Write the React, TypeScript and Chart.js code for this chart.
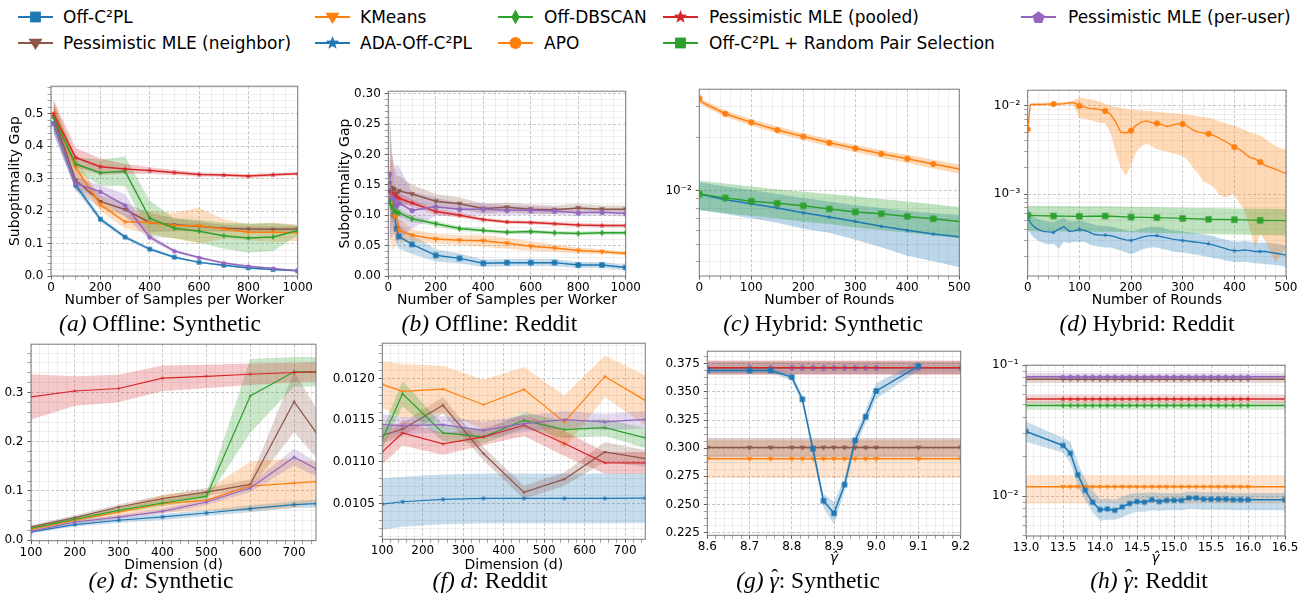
import React, { useEffect, useRef } from 'react';
import { Chart, registerables } from 'chart.js';

Chart.register(...registerables);
Chart.defaults.font.family = "'DejaVu Sans', sans-serif";
Chart.defaults.color = '#000';

const BLUE = '#1f77b4';
const ORANGE = '#ff7f0e';
const GREEN = '#2ca02c';
const RED = '#d62728';
const PURPLE = '#9467bd';
const BROWN = '#8c564b';

// ---------- (a) Offline: Synthetic ----------
const aX = [10, 100, 200, 300, 400, 500, 600, 700, 800, 900, 1000];
const aBlue = [0.47, 0.28, 0.175, 0.12, 0.083, 0.058, 0.042, 0.033, 0.025, 0.02, 0.016];
const aBlueErr = [0.03, 0.015, 0.008, 0.006, 0.005, 0.004, 0.003, 0.003, 0.003, 0.003, 0.002];
const aBrown = [0.49, 0.295, 0.23, 0.205, 0.165, 0.158, 0.153, 0.147, 0.145, 0.144, 0.145];
const aBrownErr = [0.04, 0.03, 0.02, 0.02, 0.03, 0.02, 0.015, 0.01, 0.01, 0.01, 0.01];
const aOrange = [0.5, 0.335, 0.22, 0.167, 0.165, 0.155, 0.155, 0.145, 0.135, 0.135, 0.133];
const aOrangeErr = [0.04, 0.03, 0.02, 0.02, 0.035, 0.04, 0.055, 0.03, 0.025, 0.03, 0.025];
const aGreen = [0.49, 0.345, 0.318, 0.323, 0.178, 0.147, 0.138, 0.124, 0.117, 0.12, 0.14];
const aGreenErr = [0.04, 0.02, 0.04, 0.045, 0.055, 0.03, 0.035, 0.04, 0.045, 0.043, 0.015];
const aRed = [0.5, 0.365, 0.337, 0.33, 0.325, 0.319, 0.313, 0.311, 0.308, 0.312, 0.315];
const aRedErr = [0.045, 0.03, 0.025, 0.015, 0.01, 0.008, 0.006, 0.005, 0.006, 0.005, 0.004];
const aPurple = [0.47, 0.285, 0.26, 0.218, 0.12, 0.077, 0.057, 0.04, 0.03, 0.023, 0.016];
const aPurpleErr = [0.03, 0.02, 0.02, 0.035, 0.01, 0.005, 0.004, 0.003, 0.003, 0.003, 0.002];
const aXTicks = [0, 200, 400, 600, 800, 1000];
const aYTicks = [0, 0.1, 0.2, 0.3, 0.4, 0.5];

// ---------- (b) Offline: Reddit ----------
const bX = [5, 15, 25, 35, 45, 100, 200, 300, 400, 500, 600, 700, 800, 900, 1000];
const bBlue = [0.14, 0.12, 0.1, 0.078, 0.065, 0.052, 0.034, 0.029, 0.021, 0.022, 0.022, 0.022, 0.018, 0.018, 0.014];
const bBlueErr = [0.03, 0.03, 0.03, 0.025, 0.02, 0.016, 0.01, 0.008, 0.006, 0.006, 0.006, 0.006, 0.005, 0.005, 0.004];
const bBrown = [0.153, 0.145, 0.143, 0.135, 0.14, 0.135, 0.123, 0.119, 0.111, 0.113, 0.11, 0.109, 0.112, 0.11, 0.11];
const bBrownErr = [0.12, 0.06, 0.04, 0.03, 0.025, 0.015, 0.012, 0.01, 0.008, 0.008, 0.008, 0.007, 0.007, 0.006, 0.006];
const bOrange = [0.148, 0.12, 0.098, 0.1, 0.075, 0.067, 0.061, 0.059, 0.058, 0.054, 0.049, 0.046, 0.042, 0.04, 0.037];
const bOrangeErr = [0.03, 0.08, 0.05, 0.04, 0.02, 0.01, 0.008, 0.008, 0.01, 0.009, 0.008, 0.006, 0.005, 0.004, 0.003];
const bGreen = [0.125, 0.113, 0.107, 0.105, 0.104, 0.094, 0.086, 0.078, 0.075, 0.072, 0.073, 0.071, 0.07, 0.071, 0.071];
const bGreenErr = [0.01, 0.008, 0.008, 0.007, 0.006, 0.005, 0.004, 0.004, 0.003, 0.003, 0.003, 0.003, 0.003, 0.003, 0.003];
const bRed = [0.14, 0.137, 0.133, 0.13, 0.128, 0.12, 0.106, 0.1, 0.093, 0.089, 0.088, 0.086, 0.084, 0.083, 0.083];
const bRedErr = [0.01, 0.01, 0.01, 0.009, 0.008, 0.006, 0.005, 0.004, 0.003, 0.003, 0.003, 0.003, 0.003, 0.003, 0.003];
const bPurple = [0.168, 0.13, 0.125, 0.115, 0.12, 0.108, 0.114, 0.11, 0.11, 0.108, 0.108, 0.107, 0.104, 0.105, 0.103];
const bPurpleErr = [0.1, 0.07, 0.05, 0.07, 0.06, 0.03, 0.015, 0.01, 0.01, 0.008, 0.007, 0.006, 0.005, 0.005, 0.005];
const bXTicks = [0, 200, 400, 600, 800, 1000];
const bYTicks = [0, 0.05, 0.1, 0.15, 0.2, 0.25, 0.3];

// ---------- (c) Hybrid: Synthetic ----------
const cOrangeX = [0, 5, 10, 20, 50, 100, 150, 200, 250, 300, 350, 400, 450, 500];
const cOrange = [0.0334, 0.0318, 0.0312, 0.0302, 0.0273, 0.0244, 0.0221, 0.0203, 0.0187, 0.0174, 0.0162, 0.0152, 0.0142, 0.0133];
const cOrangeHi = [0.035, 0.0332, 0.0325, 0.0315, 0.0285, 0.0254, 0.0231, 0.0212, 0.0196, 0.0182, 0.017, 0.016, 0.015, 0.0141];
const cOrangeLo = [0.0318, 0.0304, 0.0299, 0.029, 0.0262, 0.0234, 0.0211, 0.0194, 0.0178, 0.0166, 0.0154, 0.0144, 0.0134, 0.0125];
const cX = [0, 50, 100, 150, 200, 250, 300, 350, 400, 450, 500];
const cGreen = [0.0096, 0.00913, 0.00874, 0.0085, 0.00823, 0.0079, 0.0076, 0.00742, 0.00717, 0.00696, 0.00672];
const cGreenHi = [0.0114, 0.011, 0.0106, 0.0102, 0.0099, 0.0096, 0.0093, 0.009, 0.0087, 0.0084, 0.0081];
const cGreenLo = [0.0078, 0.0075, 0.0072, 0.007, 0.0067, 0.0065, 0.0062, 0.006, 0.0058, 0.0056, 0.0054];
const cBlue = [0.0096, 0.0089, 0.00845, 0.00801, 0.00752, 0.00711, 0.00672, 0.0063, 0.00598, 0.0057, 0.0055];
const cBlueHi = [0.0112, 0.0106, 0.0101, 0.0096, 0.0091, 0.0087, 0.0083, 0.008, 0.0077, 0.0075, 0.0073];
const cBlueLo = [0.0078, 0.0074, 0.007, 0.0066, 0.0061, 0.0058, 0.0053, 0.0048, 0.0043, 0.004, 0.0037];
const cXTicks = [0, 100, 200, 300, 400, 500];

// ---------- (d) Hybrid: Reddit ----------
const dX = [0, 5, 10, 20, 30, 40, 50, 60, 70, 80, 90,
  100, 110, 120, 130, 140, 150, 160, 170, 180, 190,
  200, 210, 220, 230, 240, 250, 260, 270, 280, 290,
  300, 310, 320, 330, 340, 350, 360, 370, 380, 390,
  400, 410, 420, 430, 440, 450, 460, 470, 480, 490, 500];
const dOrange = [0.0054, 0.0102, 0.0103, 0.0103, 0.0103, 0.0104, 0.0104, 0.0104, 0.0105, 0.0107, 0.0108,
  0.0099, 0.0096, 0.0093, 0.0092, 0.009, 0.0087, 0.008, 0.0066, 0.005, 0.0049,
  0.0052, 0.006, 0.0065, 0.0067, 0.0064, 0.0063, 0.0061, 0.0058, 0.006, 0.0062,
  0.0062, 0.0058, 0.0053, 0.005, 0.0049, 0.0048, 0.0046, 0.0043, 0.004, 0.0037,
  0.0034, 0.0032, 0.0029, 0.0026, 0.0025, 0.0023, 0.0021, 0.002, 0.0019, 0.0018, 0.0017];
const dOrangeHi = [0.006, 0.0107, 0.0107, 0.0107, 0.0107, 0.0108, 0.0108, 0.0108, 0.0109, 0.0111, 0.0115,
  0.0123, 0.0121, 0.0118, 0.0115, 0.011, 0.0105, 0.01, 0.0097, 0.0094, 0.0092,
  0.009, 0.0089, 0.0088, 0.0087, 0.0086, 0.0085, 0.0084, 0.0083, 0.0082, 0.0081,
  0.008, 0.0079, 0.0077, 0.0075, 0.0074, 0.0073, 0.007, 0.0067, 0.0064, 0.0061,
  0.0059, 0.0056, 0.0053, 0.005, 0.0048, 0.0046, 0.0042, 0.0038, 0.0035, 0.0033, 0.0032];
const dOrangeLo = [0.003, 0.0098, 0.0099, 0.0099, 0.0099, 0.01, 0.01, 0.01, 0.0101, 0.0103, 0.0098,
  0.0072, 0.0071, 0.0069, 0.0066, 0.0064, 0.0063, 0.005, 0.003, 0.002, 0.0016,
  0.0021, 0.003, 0.0035, 0.0037, 0.0035, 0.0032, 0.0031, 0.003, 0.0029, 0.0028,
  0.0027, 0.0024, 0.002, 0.0017, 0.0014, 0.0013, 0.0012, 0.001, 0.00092, 0.00095,
  0.001, 0.0008, 0.00065, 0.0004, 0.00025, 0.00035, 0.0003, 0.00022, 0.00017, 0.0002, 0.00025];
const dBlue = [5.5e-4, 4.8e-4, 4.4e-4, 4.0e-4, 3.8e-4, 3.75e-4, 3.7e-4, 4.0e-4, 4.3e-4, 3.8e-4, 3.85e-4,
  4.0e-4, 3.9e-4, 3.7e-4, 3.5e-4, 3.45e-4, 3.45e-4, 3.4e-4, 3.3e-4, 3.15e-4, 3.05e-4,
  3.0e-4, 3.1e-4, 3.25e-4, 3.35e-4, 3.4e-4, 3.4e-4, 3.3e-4, 3.2e-4, 3.1e-4, 3.05e-4,
  3.0e-4, 2.95e-4, 2.9e-4, 2.85e-4, 2.8e-4, 2.75e-4, 2.65e-4, 2.55e-4, 2.45e-4, 2.35e-4,
  2.3e-4, 2.3e-4, 2.35e-4, 2.3e-4, 2.25e-4, 2.25e-4, 2.25e-4, 2.2e-4, 2.15e-4, 2.1e-4, 2.05e-4];
const dBlueHi = [7.0e-4, 6.2e-4, 5.7e-4, 5.2e-4, 5.0e-4, 4.9e-4, 4.8e-4, 5.1e-4, 5.4e-4, 4.9e-4, 4.9e-4,
  5.0e-4, 4.9e-4, 4.7e-4, 4.5e-4, 4.4e-4, 4.4e-4, 4.3e-4, 4.2e-4, 4.0e-4, 3.9e-4,
  3.8e-4, 3.9e-4, 4.1e-4, 4.2e-4, 4.3e-4, 4.3e-4, 4.2e-4, 4.0e-4, 3.9e-4, 3.85e-4,
  3.8e-4, 3.7e-4, 3.65e-4, 3.6e-4, 3.5e-4, 3.45e-4, 3.35e-4, 3.2e-4, 3.1e-4, 3.0e-4,
  2.9e-4, 2.9e-4, 2.95e-4, 2.9e-4, 2.85e-4, 2.85e-4, 2.85e-4, 2.8e-4, 2.75e-4, 2.7e-4, 2.65e-4];
const dBlueLo = [4.2e-4, 3.6e-4, 3.3e-4, 3.0e-4, 2.8e-4, 2.7e-4, 2.75e-4, 2.4e-4, 2.9e-4, 2.8e-4, 2.9e-4,
  2.9e-4, 2.9e-4, 2.7e-4, 2.6e-4, 2.55e-4, 2.5e-4, 2.5e-4, 2.4e-4, 2.3e-4, 2.2e-4,
  2.1e-4, 2.2e-4, 2.35e-4, 2.45e-4, 2.5e-4, 2.5e-4, 2.4e-4, 2.35e-4, 2.25e-4, 2.2e-4,
  2.2e-4, 2.15e-4, 2.1e-4, 2.05e-4, 2.0e-4, 1.95e-4, 1.9e-4, 1.85e-4, 1.8e-4, 1.75e-4,
  1.72e-4, 1.7e-4, 1.72e-4, 1.7e-4, 1.65e-4, 1.65e-4, 1.62e-4, 1.6e-4, 1.58e-4, 1.55e-4, 1.5e-4];
const dGreenX = [0, 50, 100, 150, 200, 250, 300, 350, 400, 450, 500];
const dGreen = [5.76e-4, 5.66e-4, 5.61e-4, 5.66e-4, 5.51e-4, 5.43e-4, 5.33e-4, 5.2e-4, 5.15e-4, 5.06e-4, 5.02e-4];
const dGreenHi = [7.4e-4, 7.35e-4, 7.3e-4, 7.3e-4, 7.2e-4, 7.1e-4, 7.0e-4, 6.95e-4, 6.9e-4, 6.85e-4, 6.8e-4];
const dGreenLo = [3.8e-4, 3.8e-4, 3.75e-4, 3.75e-4, 3.7e-4, 3.65e-4, 3.6e-4, 3.55e-4, 3.5e-4, 3.45e-4, 3.4e-4];
const dXTicks = [0, 100, 200, 300, 400, 500];

// ---------- (e) d: Synthetic ----------
const eX = [100, 200, 300, 400, 500, 600, 700, 750];
const eBlue = [0.0169, 0.0317, 0.0405, 0.0472, 0.0553, 0.064, 0.0722, 0.0742];
const eBlueErr = [0.003, 0.004, 0.005, 0.006, 0.006, 0.007, 0.007, 0.008];
const eBrown = [0.027, 0.0459, 0.0674, 0.0843, 0.0978, 0.1133, 0.2812, 0.219];
const eBrownErr = [0.004, 0.005, 0.005, 0.007, 0.008, 0.01, 0.062, 0.05];
const eOrange = [0.0216, 0.0405, 0.057, 0.074, 0.081, 0.11, 0.116, 0.119];
const eOrangeErr = [0.004, 0.006, 0.01, 0.018, 0.02, 0.05, 0.05, 0.04];
const eGreen = [0.024, 0.0425, 0.0607, 0.0755, 0.089, 0.293, 0.342, 0.342];
const eGreenErr = [0.004, 0.005, 0.005, 0.006, 0.008, 0.075, 0.03, 0.03];
const eRed = [0.291, 0.303, 0.308, 0.329, 0.3325, 0.337, 0.3405, 0.342];
const eRedErr = [0.046, 0.03, 0.028, 0.026, 0.024, 0.022, 0.02, 0.02];
const ePurple = [0.018, 0.037, 0.047, 0.0587, 0.0775, 0.106, 0.1686, 0.145];
const ePurpleErr = [0.003, 0.004, 0.004, 0.005, 0.006, 0.008, 0.017, 0.015];
const eXTicks = [100, 200, 300, 400, 500, 600, 700];
const eYTicks = [0, 0.1, 0.2, 0.3];

// ---------- (f) d: Reddit ----------
const fX = [100, 150, 250, 350, 450, 550, 650, 750];
const fBlue = [0.010492, 0.01052, 0.010548, 0.01056, 0.01056, 0.01056, 0.01056, 0.010564];
const fBlueErr = [0.00031, 0.0003, 0.0003, 0.0003, 0.0003, 0.0003, 0.0003, 0.0003];
const fBrown = [0.01132, 0.011392, 0.01168, 0.0111, 0.010632, 0.010792, 0.01112, 0.01104];
const fBrownErr = [0.0001, 0.00008, 0.0001, 0.00008, 0.00008, 0.00008, 0.00012, 0.0001];
const fOrange = [0.011932, 0.011848, 0.011876, 0.011688, 0.011872, 0.01148, 0.012028, 0.01174];
const fOrangeErr = [0.00028, 0.00033, 0.00028, 0.0003, 0.00027, 0.00032, 0.00025, 0.0003];
const fGreen = [0.011268, 0.01182, 0.011348, 0.0113, 0.0115, 0.011388, 0.011412, 0.011288];
const fGreenErr = [0.00012, 0.00015, 0.0001, 0.00008, 0.0001, 0.0001, 0.0001, 0.00012];
const fRed = [0.01112, 0.011348, 0.011216, 0.0113, 0.01144, 0.01122, 0.010988, 0.010988];
const fRedErr = [0.00015, 0.00015, 0.00013, 0.0001, 0.00013, 0.00015, 0.00013, 0.00013];
const fPurple = [0.011448, 0.011436, 0.011448, 0.01138, 0.01146, 0.011508, 0.01148, 0.011512];
const fPurpleErr = [0.00013, 0.0001, 0.0001, 0.0001, 0.0001, 0.0001, 0.0001, 0.0001];
const fXTicks = [100, 200, 300, 400, 500, 600, 700];
const fYTicks = [0.0105, 0.011, 0.0115, 0.012];

// ---------- (g) gamma: Synthetic ----------
const gX = [8.6, 8.7, 8.75, 8.8, 8.825, 8.85, 8.875, 8.9, 8.925, 8.95, 8.975, 9.0, 9.1];
const gBlue = [0.3691, 0.369, 0.369, 0.3632, 0.3435, 0.2994, 0.2532, 0.2421, 0.2676, 0.3068, 0.328, 0.3509, 0.373];
const gBlueErr = [0.002, 0.002, 0.002, 0.003, 0.004, 0.005, 0.006, 0.01, 0.006, 0.006, 0.006, 0.007, 0.004];
const gBaseX = [8.6, 8.7, 8.75, 8.8, 8.825, 8.85, 8.875, 8.9, 8.925, 8.95, 8.975, 9.0, 9.1, 9.2];
const gGreen = [0.3715, 0.3715, 0.3715, 0.3715, 0.3715, 0.3715, 0.3715, 0.3715, 0.3715, 0.3715, 0.3715, 0.3715, 0.3715, 0.3715];
const gRed = [0.3715, 0.3715, 0.3715, 0.3715, 0.3715, 0.3715, 0.3715, 0.3715, 0.3715, 0.3715, 0.3715, 0.3715, 0.3715, 0.3715];
const gPurple = [0.3715, 0.3715, 0.3715, 0.3715, 0.3715, 0.3715, 0.3715, 0.3715, 0.3715, 0.3715, 0.3715, 0.3715, 0.3715, 0.3715];
const gBrown = [0.3006, 0.3006, 0.3006, 0.3006, 0.3006, 0.3006, 0.3006, 0.3006, 0.3006, 0.3006, 0.3006, 0.3006, 0.3006, 0.3006];
const gOrange = [0.2906, 0.2906, 0.2906, 0.2906, 0.2906, 0.2906, 0.2906, 0.2906, 0.2906, 0.2906, 0.2906, 0.2906, 0.2906, 0.2906];
const gBandX = [8.6, 9.2];
const gGreenLo = [0.366, 0.366];
const gGreenHi = [0.377, 0.377];
const gRedLo = [0.365, 0.365];
const gRedHi = [0.378, 0.378];
const gPurpleLo = [0.366, 0.366];
const gPurpleHi = [0.377, 0.377];
const gBrownLo = [0.292, 0.292];
const gBrownHi = [0.309, 0.309];
const gOrangeLo = [0.2735, 0.2735];
const gOrangeHi = [0.307, 0.307];
const gXTicks = [8.6, 8.7, 8.8, 8.9, 9.0, 9.1, 9.2];
const gYTicks = [0.225, 0.25, 0.275, 0.3, 0.325, 0.35, 0.375];

// ---------- (h) gamma: Reddit ----------
const hX = [13.0, 13.5, 13.6, 13.7, 13.8, 13.9, 14.0, 14.1, 14.2, 14.3, 14.4, 14.5, 14.6, 14.7,
  14.8, 14.9, 15.0, 15.1, 15.2, 15.3, 15.4, 15.5, 15.6, 15.7, 15.8, 15.9, 16.0, 16.5];
const hBlue = [0.0312, 0.0244, 0.0213, 0.0146, 0.0111, 0.009, 0.0079, 0.008, 0.0078, 0.0083, 0.0088, 0.0091, 0.009, 0.0094,
  0.0091, 0.0093, 0.0093, 0.0093, 0.0097, 0.0097, 0.0095, 0.0095, 0.0095, 0.0095, 0.0094, 0.0094, 0.0094, 0.0094];
const hBlueHi = [0.037, 0.028, 0.026, 0.018, 0.0135, 0.011, 0.0095, 0.0096, 0.0094, 0.0099, 0.0104, 0.0106, 0.0106, 0.0107,
  0.0106, 0.0106, 0.0106, 0.0106, 0.0108, 0.0108, 0.0107, 0.0107, 0.0107, 0.0107, 0.0106, 0.0106, 0.0106, 0.0106];
const hBlueLo = [0.026, 0.0215, 0.018, 0.012, 0.0093, 0.0075, 0.0065, 0.0066, 0.0066, 0.0069, 0.0073, 0.0076, 0.0076, 0.0078,
  0.0077, 0.0078, 0.0078, 0.0078, 0.008, 0.008, 0.0079, 0.0079, 0.0079, 0.0079, 0.0078, 0.0078, 0.0078, 0.0078];
const hPurple = [0.0815, 0.0815, 0.0815, 0.0815, 0.0815, 0.0815, 0.0815, 0.0815, 0.0815, 0.0815, 0.0815, 0.0815, 0.0815, 0.0815,
  0.0815, 0.0815, 0.0815, 0.0815, 0.0815, 0.0815, 0.0815, 0.0815, 0.0815, 0.0815, 0.0815, 0.0815, 0.0815, 0.0815];
const hBrown = [0.078, 0.078, 0.078, 0.078, 0.078, 0.078, 0.078, 0.078, 0.078, 0.078, 0.078, 0.078, 0.078, 0.078,
  0.078, 0.078, 0.078, 0.078, 0.078, 0.078, 0.078, 0.078, 0.078, 0.078, 0.078, 0.078, 0.078, 0.078];
const hRed = [0.0552, 0.0552, 0.0552, 0.0552, 0.0552, 0.0552, 0.0552, 0.0552, 0.0552, 0.0552, 0.0552, 0.0552, 0.0552, 0.0552,
  0.0552, 0.0552, 0.0552, 0.0552, 0.0552, 0.0552, 0.0552, 0.0552, 0.0552, 0.0552, 0.0552, 0.0552, 0.0552, 0.0552];
const hGreen = [0.0492, 0.0492, 0.0492, 0.0492, 0.0492, 0.0492, 0.0492, 0.0492, 0.0492, 0.0492, 0.0492, 0.0492, 0.0492, 0.0492,
  0.0492, 0.0492, 0.0492, 0.0492, 0.0492, 0.0492, 0.0492, 0.0492, 0.0492, 0.0492, 0.0492, 0.0492, 0.0492, 0.0492];
const hOrange = [0.0118, 0.0118, 0.0118, 0.0118, 0.0118, 0.0118, 0.0118, 0.0118, 0.0118, 0.0118, 0.0118, 0.0118, 0.0118, 0.0118,
  0.0118, 0.0118, 0.0118, 0.0118, 0.0118, 0.0118, 0.0118, 0.0118, 0.0118, 0.0118, 0.0118, 0.0118, 0.0118, 0.0118];
const hBandX = [13.0, 16.5];
const hPurpleLo = [0.077, 0.077];
const hPurpleHi = [0.087, 0.087];
const hBrownLo = [0.073, 0.073];
const hBrownHi = [0.083, 0.083];
const hRedLo = [0.051, 0.051];
const hRedHi = [0.0595, 0.0595];
const hGreenLo = [0.0455, 0.0455];
const hGreenHi = [0.053, 0.053];
const hOrangeLo = [0.0088, 0.0088];
const hOrangeHi = [0.0145, 0.0145];
const hXTicks = [13.0, 13.5, 14.0, 14.5, 15.0, 15.5, 16.0, 16.5];

// ---------- helpers ----------
type Shape = 'square' | 'circle' | 'triDown' | 'diamond' | 'star' | 'pentagon';

interface Series {
  x: number[]; y: number[]; color: string; shape: Shape; ms: number;
  err?: number[]; lo?: number[]; hi?: number[]; bx?: number[];
  mark?: (x: number) => boolean; lw?: number; alpha?: number;
}
interface Axis {
  log?: boolean; min: number; max: number; majors?: number[]; minor?: number; dec?: number;
  title?: string; italic?: boolean;
}
interface PanelDef {
  rect: [number, number, number, number]; cl: number; xTitleY: number;
  series: Series[]; x: Axis; y: Axis;
}

function rgba(hex: string, a: number) {
  const n = parseInt(hex.slice(1), 16);
  return `rgba(${(n >> 16) & 255},${(n >> 8) & 255},${n & 255},${a})`;
}

function shapePath(ctx: CanvasRenderingContext2D, shape: Shape, cx: number, cy: number, s: number) {
  const r = s / 2;
  ctx.beginPath();
  if (shape === 'square') {
    ctx.rect(cx - r * 0.9, cy - r * 0.9, s * 0.9, s * 0.9);
  } else if (shape === 'circle') {
    ctx.arc(cx, cy, r, 0, Math.PI * 2);
  } else if (shape === 'triDown') {
    ctx.moveTo(cx - r, cy - r * 0.6);
    ctx.lineTo(cx + r, cy - r * 0.6);
    ctx.lineTo(cx, cy + r);
    ctx.closePath();
  } else if (shape === 'diamond') {
    ctx.moveTo(cx, cy - r);
    ctx.lineTo(cx + r * 0.55, cy);
    ctx.lineTo(cx, cy + r);
    ctx.lineTo(cx - r * 0.55, cy);
    ctx.closePath();
  } else if (shape === 'star') {
    for (let i = 0; i < 10; i++) {
      const a = -Math.PI / 2 + (i * Math.PI) / 5;
      const rr = i % 2 ? r * 0.42 : r;
      const px = cx + rr * Math.cos(a);
      const py = cy + rr * Math.sin(a);
      if (i === 0) ctx.moveTo(px, py); else ctx.lineTo(px, py);
    }
    ctx.closePath();
  } else {
    for (let i = 0; i < 5; i++) {
      const a = -Math.PI / 2 + (i * 2 * Math.PI) / 5;
      const px = cx + r * Math.cos(a);
      const py = cy + r * Math.sin(a) + r * 0.1;
      if (i === 0) ctx.moveTo(px, py); else ctx.lineTo(px, py);
    }
    ctx.closePath();
  }
}

const markerCache = new Map<string, HTMLCanvasElement>();
function marker(shape: Shape, color: string, s: number) {
  const key = `${shape}|${color}|${s}`;
  const hit = markerCache.get(key);
  if (hit) return hit;
  const c = document.createElement('canvas');
  const n = Math.ceil(s) + 2;
  c.width = n;
  c.height = n;
  const ctx = c.getContext('2d')!;
  shapePath(ctx, shape, n / 2, n / 2, s);
  ctx.fillStyle = color;
  ctx.fill();
  markerCache.set(key, c);
  return c;
}

const SUP: Record<string, string> = { '-': '⁻', '0': '⁰', '1': '¹', '2': '²', '3': '³', '4': '⁴', '5': '⁵', '6': '⁶', '7': '⁷', '8': '⁸', '9': '⁹' };
const sup = (n: number) => String(n).split('').map((ch) => SUP[ch]).join('');

function tickList(ax: Axis): number[] {
  const out: number[] = [];
  if (ax.log) {
    const e0 = Math.floor(Math.log10(ax.min));
    const e1 = Math.ceil(Math.log10(ax.max));
    for (let e = e0; e <= e1; e++) {
      for (let m = 1; m <= 9; m++) {
        const v = parseFloat((m * Math.pow(10, e)).toPrecision(6));
        if (v >= ax.min * 0.999999 && v <= ax.max * 1.000001) out.push(v);
      }
    }
    return out;
  }
  const st = ax.minor!;
  const k0 = Math.ceil(ax.min / st - 1e-6);
  const k1 = Math.floor(ax.max / st + 1e-6);
  for (let k = k0; k <= k1; k++) out.push(parseFloat((k * st).toPrecision(10)));
  return out;
}
function isMajor(ax: Axis, v: number) {
  if (ax.log) {
    const l = Math.log10(v);
    return Math.abs(l - Math.round(l)) < 1e-6;
  }
  return ax.majors!.some((m) => Math.abs(m - v) < ax.minor! * 1e-3);
}
function tickLabel(ax: Axis, v: number) {
  if (!isMajor(ax, v)) return '';
  if (ax.log) return '10' + sup(Math.round(Math.log10(v)));
  return v.toFixed(ax.dec ?? 0);
}

function makeScale(ax: Axis, which: 'x' | 'y', size: number) {
  const ticks = tickList(ax);
  return {
    type: ax.log ? 'logarithmic' : 'linear',
    min: ax.min,
    max: ax.max,
    afterBuildTicks: (s: any) => { s.ticks = ticks.map((v) => ({ value: v })); },
    afterFit: (s: any) => { if (which === 'x') s.height = size; else s.width = size; },
    ticks: {
      autoSkip: false, maxRotation: 0, minRotation: 0,
      padding: which === 'x' ? 1 : 4,
      font: { size: 12 }, color: '#000',
      callback: (v: any) => tickLabel(ax, Number(v)),
    },
    grid: {
      color: (c: any) => (c.tick && isMajor(ax, c.tick.value) ? 'rgba(140,140,140,0.6)' : 'rgba(160,160,160,0.22)'),
      lineWidth: 0.8,
      tickLength: 3.5,
      tickColor: (c: any) => (c.tick && isMajor(ax, c.tick.value) ? '#333' : '#888'),
    },
    border: {
      display: false,
      dash: (c: any) => (c.tick && isMajor(ax, c.tick.value) ? [3, 2] : []),
    },
    title: ax.title
      ? { display: true, text: ax.title, padding: 0, color: '#000', font: { size: 14, style: ax.italic ? 'italic' : 'normal' } }
      : { display: false },
  };
}

function buildDatasets(series: Series[]) {
  const ds: any[] = [];
  const n = series.length;
  series.forEach((s, i) => {
    const img = marker(s.shape, s.color, s.ms);
    ds.push({
      data: s.x.map((x, j) => ({ x, y: s.y[j] })),
      borderColor: s.color,
      backgroundColor: s.color,
      borderWidth: s.lw ?? 1.5,
      pointStyle: img,
      pointRadius: (c: any) => (!s.mark || s.mark(c.raw.x) ? 3 : 0),
      pointHoverRadius: 0,
      tension: 0,
      fill: false,
      order: n - i,
    });
    let lo = s.lo;
    let hi = s.hi;
    const bx = s.bx ?? s.x;
    if (s.err) {
      lo = s.y.map((v, j) => v - s.err![j]);
      hi = s.y.map((v, j) => v + s.err![j]);
    }
    if (lo && hi) {
      ds.push({
        data: bx.map((x, j) => ({ x, y: hi![j] })),
        borderColor: 'transparent', borderWidth: 0, pointRadius: 0, pointHoverRadius: 0,
        backgroundColor: rgba(s.color, s.alpha ?? 0.25),
        fill: '+1', tension: 0, order: 1000 + n - i,
      });
      ds.push({
        data: bx.map((x, j) => ({ x, y: lo![j] })),
        borderColor: 'transparent', borderWidth: 0, pointRadius: 0, pointHoverRadius: 0,
        fill: false, tension: 0, order: 1000 + n - i,
      });
    }
  });
  return ds;
}

const framePlugin = {
  id: 'frame',
  afterDraw(chart: any) {
    const { ctx, chartArea: a } = chart;
    ctx.save();
    ctx.strokeStyle = '#7a7a7a';
    ctx.lineWidth = 1;
    ctx.strokeRect(a.left, a.top, a.right - a.left, a.bottom - a.top);
    ctx.restore();
  },
};

function Panel({ def }: { def: PanelDef }) {
  const ref = useRef<HTMLCanvasElement>(null);
  const [l, t, r, b] = def.rect;
  const ct = Math.floor(t) - 10;
  const padTop = t - ct;
  const yW = l - def.cl;
  const xH = def.xTitleY + 8.4 - b;
  const cw = Math.ceil(r - def.cl + 16);
  const padRight = cw - (r - def.cl);
  const ch = Math.ceil(def.xTitleY + 8.4 - ct + 3);
  const padBottom = ch - (b - ct) - xH;

  useEffect(() => {
    const chart = new Chart(ref.current!, {
      type: 'line',
      data: { datasets: buildDatasets(def.series) },
      options: {
        responsive: false,
        animation: false,
        events: [],
        layout: { autoPadding: false, padding: { left: 0, top: padTop, right: padRight, bottom: padBottom } },
        plugins: { legend: { display: false }, tooltip: { enabled: false } },
        scales: { x: makeScale(def.x, 'x', xH) as any, y: makeScale(def.y, 'y', yW) as any },
      } as any,
      plugins: [framePlugin],
    });
    return () => chart.destroy();
  }, []);

  return (
    <canvas
      ref={ref}
      width={cw}
      height={ch}
      style={{ position: 'absolute', left: def.cl, top: ct, width: cw, height: ch }}
    />
  );
}

// ---------- panels ----------
const markEvery50 = (x: number) => x % 50 === 0 && x < 500;
const hMark = (x: number) => x > 13.45 && x < 16.05;

const panels: PanelDef[] = [
  {
    rect: [51, 85, 298, 276], cl: 7, xTitleY: 300,
    x: { min: 0, max: 1000, majors: aXTicks, minor: 50, dec: 0, title: 'Number of Samples per Worker' },
    y: { min: 0, max: 0.585, majors: aYTicks, minor: 0.02, dec: 1, title: 'Suboptimality Gap' },
    series: [
      { x: aX, y: aBlue, err: aBlueErr, color: BLUE, shape: 'square', ms: 5 },
      { x: aX, y: aBrown, err: aBrownErr, color: BROWN, shape: 'triDown', ms: 5 },
      { x: aX, y: aOrange, err: aOrangeErr, color: ORANGE, shape: 'triDown', ms: 5 },
      { x: aX, y: aGreen, err: aGreenErr, color: GREEN, shape: 'diamond', ms: 6 },
      { x: aX, y: aRed, err: aRedErr, color: RED, shape: 'star', ms: 6 },
      { x: aX, y: aPurple, err: aPurpleErr, color: PURPLE, shape: 'pentagon', ms: 5 },
    ],
  },
  {
    rect: [388.3, 90, 626, 276], cl: 337, xTitleY: 300.7,
    x: { min: 0, max: 1000, majors: bXTicks, minor: 50, dec: 0, title: 'Number of Samples per Worker' },
    y: { min: 0, max: 0.304, majors: bYTicks, minor: 0.01, dec: 2, title: 'Suboptimality Gap' },
    series: [
      { x: bX, y: bBlue, err: bBlueErr, color: BLUE, shape: 'square', ms: 6 },
      { x: bX, y: bBrown, err: bBrownErr, color: BROWN, shape: 'triDown', ms: 6 },
      { x: bX, y: bOrange, err: bOrangeErr, color: ORANGE, shape: 'triDown', ms: 6 },
      { x: bX, y: bGreen, err: bGreenErr, color: GREEN, shape: 'diamond', ms: 7 },
      { x: bX, y: bRed, err: bRedErr, color: RED, shape: 'star', ms: 6 },
      { x: bX, y: bPurple, err: bPurpleErr, color: PURPLE, shape: 'pentagon', ms: 6 },
    ],
  },
  {
    rect: [699.3, 88, 959.3, 276], cl: 655, xTitleY: 300.7,
    x: { min: 0, max: 500, majors: cXTicks, minor: 20, dec: 0, title: 'Number of Rounds' },
    y: { log: true, min: 0.0033, max: 0.0376 },
    series: [
      { x: cX, y: cBlue, lo: cBlueLo, hi: cBlueHi, color: BLUE, shape: 'star', ms: 5, mark: markEvery50, alpha: 0.3 },
      { x: cOrangeX, y: cOrange, lo: cOrangeLo, hi: cOrangeHi, color: ORANGE, shape: 'circle', ms: 6, mark: markEvery50, alpha: 0.3 },
      { x: cX, y: cGreen, lo: cGreenLo, hi: cGreenHi, color: GREEN, shape: 'square', ms: 7, mark: markEvery50, alpha: 0.3 },
    ],
  },
  {
    rect: [1027.7, 89.3, 1286, 276], cl: 985, xTitleY: 300,
    x: { min: 0, max: 500, majors: dXTicks, minor: 20, dec: 0, title: 'Number of Rounds' },
    y: { log: true, min: 1.19e-4, max: 0.0149 },
    series: [
      { x: dX, y: dBlue, lo: dBlueLo, hi: dBlueHi, color: BLUE, shape: 'star', ms: 5, mark: markEvery50, lw: 1.3, alpha: 0.3 },
      { x: dX, y: dOrange, lo: dOrangeLo, hi: dOrangeHi, color: ORANGE, shape: 'circle', ms: 6, mark: markEvery50, lw: 1.3, alpha: 0.3 },
      { x: dGreenX, y: dGreen, lo: dGreenLo, hi: dGreenHi, color: GREEN, shape: 'square', ms: 7, mark: markEvery50, lw: 1.3, alpha: 0.3 },
    ],
  },
  {
    rect: [31, 343.3, 316, 540.7], cl: 0, xTitleY: 565.7,
    x: { min: 100, max: 750, majors: eXTicks, minor: 20, dec: 0, title: 'Dimension (d)' },
    y: { min: -0.001, max: 0.398, majors: eYTicks, minor: 0.02, dec: 1 },
    series: [
      { x: eX, y: eBlue, err: eBlueErr, color: BLUE, shape: 'square', ms: 3.5, lw: 1.2 },
      { x: eX, y: eBrown, err: eBrownErr, color: BROWN, shape: 'triDown', ms: 3.5, lw: 1.2 },
      { x: eX, y: eOrange, err: eOrangeErr, color: ORANGE, shape: 'triDown', ms: 3.5, lw: 1.2 },
      { x: eX, y: eGreen, err: eGreenErr, color: GREEN, shape: 'diamond', ms: 4, lw: 1.2 },
      { x: eX, y: eRed, err: eRedErr, color: RED, shape: 'star', ms: 4, lw: 1.2 },
      { x: eX, y: ePurple, err: ePurpleErr, color: PURPLE, shape: 'pentagon', ms: 3.5, lw: 1.2 },
    ],
  },
  {
    rect: [382.3, 342.7, 645.3, 539.3], cl: 332, xTitleY: 565.7,
    x: { min: 100, max: 750, majors: fXTicks, minor: 20, dec: 0, title: 'Dimension (d)' },
    y: { min: 0.010068, max: 0.012428, majors: fYTicks, minor: 0.0001, dec: 4 },
    series: [
      { x: fX, y: fBlue, err: fBlueErr, color: BLUE, shape: 'square', ms: 3.5, lw: 1.2 },
      { x: fX, y: fBrown, err: fBrownErr, color: BROWN, shape: 'triDown', ms: 3.5, lw: 1.2 },
      { x: fX, y: fOrange, err: fOrangeErr, color: ORANGE, shape: 'triDown', ms: 3.5, lw: 1.2 },
      { x: fX, y: fGreen, err: fGreenErr, color: GREEN, shape: 'diamond', ms: 4, lw: 1.2 },
      { x: fX, y: fRed, err: fRedErr, color: RED, shape: 'star', ms: 4, lw: 1.2 },
      { x: fX, y: fPurple, err: fPurpleErr, color: PURPLE, shape: 'pentagon', ms: 3.5, lw: 1.2 },
    ],
  },
  {
    rect: [707.3, 350, 960.7, 535.3], cl: 655, xTitleY: 558,
    x: { min: 8.6, max: 9.2, majors: gXTicks, minor: 0.02, dec: 1, title: 'γ̂', italic: true },
    y: { min: 0.2226, max: 0.3862, majors: gYTicks, minor: 0.00625, dec: 3 },
    series: [
      { x: gBaseX, y: gGreen, bx: gBandX, lo: gGreenLo, hi: gGreenHi, color: GREEN, shape: 'diamond', ms: 6, alpha: 0.2 },
      { x: gBaseX, y: gOrange, bx: gBandX, lo: gOrangeLo, hi: gOrangeHi, color: ORANGE, shape: 'triDown', ms: 6, alpha: 0.2 },
      { x: gBaseX, y: gBrown, bx: gBandX, lo: gBrownLo, hi: gBrownHi, color: BROWN, shape: 'triDown', ms: 6, alpha: 0.3 },
      { x: gBaseX, y: gPurple, bx: gBandX, lo: gPurpleLo, hi: gPurpleHi, color: PURPLE, shape: 'pentagon', ms: 6, alpha: 0.25 },
      { x: gBaseX, y: gRed, bx: gBandX, lo: gRedLo, hi: gRedHi, color: RED, shape: 'star', ms: 6, mark: () => false, alpha: 0.25 },
      { x: gX, y: gBlue, err: gBlueErr, color: BLUE, shape: 'square', ms: 6, alpha: 0.25 },
    ],
  },
  {
    rect: [1026, 364.3, 1285, 536], cl: 980, xTitleY: 558,
    x: { min: 13.0, max: 16.5, majors: hXTicks, minor: 0.1, dec: 1, title: 'γ̂', italic: true },
    y: { log: true, min: 0.00497, max: 0.1 },
    series: [
      { x: hX, y: hOrange, bx: hBandX, lo: hOrangeLo, hi: hOrangeHi, color: ORANGE, shape: 'triDown', ms: 5.5, mark: hMark, alpha: 0.2 },
      { x: hX, y: hGreen, bx: hBandX, lo: hGreenLo, hi: hGreenHi, color: GREEN, shape: 'diamond', ms: 6, mark: hMark, alpha: 0.2 },
      { x: hX, y: hRed, bx: hBandX, lo: hRedLo, hi: hRedHi, color: RED, shape: 'star', ms: 6, mark: hMark, alpha: 0.2 },
      { x: hX, y: hBrown, bx: hBandX, lo: hBrownLo, hi: hBrownHi, color: BROWN, shape: 'triDown', ms: 5.5, mark: hMark, alpha: 0.25 },
      { x: hX, y: hPurple, bx: hBandX, lo: hPurpleLo, hi: hPurpleHi, color: PURPLE, shape: 'pentagon', ms: 5.5, mark: hMark, alpha: 0.25 },
      { x: hX, y: hBlue, lo: hBlueLo, hi: hBlueHi, color: BLUE, shape: 'square', ms: 5.5, alpha: 0.25 },
    ],
  },
];

// ---------- legend ----------
interface LegItem { x: number; tx: number; row: number; label: string; color: string; shape: Shape; ms: number }
const legendItems: LegItem[] = [
  { x: 18, tx: 63, row: 0, label: 'Off-C²PL', color: BLUE, shape: 'square', ms: 12 },
  { x: 315, tx: 360, row: 0, label: 'KMeans', color: ORANGE, shape: 'triDown', ms: 14 },
  { x: 498, tx: 544, row: 0, label: 'Off-DBSCAN', color: GREEN, shape: 'diamond', ms: 15 },
  { x: 663, tx: 709, row: 0, label: 'Pessimistic MLE (pooled)', color: RED, shape: 'star', ms: 14 },
  { x: 1021, tx: 1068, row: 0, label: 'Pessimistic MLE (per-user)', color: PURPLE, shape: 'pentagon', ms: 13 },
  { x: 18, tx: 63, row: 1, label: 'Pessimistic MLE (neighbor)', color: BROWN, shape: 'triDown', ms: 14 },
  { x: 315, tx: 360, row: 1, label: 'ADA-Off-C²PL', color: BLUE, shape: 'star', ms: 14 },
  { x: 498, tx: 544, row: 1, label: 'APO', color: ORANGE, shape: 'circle', ms: 12 },
  { x: 663, tx: 709, row: 1, label: 'Off-C²PL + Random Pair Selection', color: GREEN, shape: 'square', ms: 12 },
];
const legendRowY = [16.5, 43];

function LegendIcon({ item }: { item: LegItem }) {
  const ref = useRef<HTMLCanvasElement>(null);
  useEffect(() => {
    const ctx = ref.current!.getContext('2d')!;
    ctx.clearRect(0, 0, 36, 20);
    ctx.strokeStyle = item.color;
    ctx.lineWidth = 2.2;
    ctx.beginPath();
    ctx.moveTo(0, 10);
    ctx.lineTo(35, 10);
    ctx.stroke();
    shapePath(ctx, item.shape, 17.5, 10, item.ms);
    ctx.fillStyle = item.color;
    ctx.fill();
  }, []);
  return (
    <canvas
      ref={ref}
      width={36}
      height={20}
      style={{ position: 'absolute', left: Math.round(item.x), top: Math.round(legendRowY[item.row] - 10) }}
    />
  );
}

// ---------- captions ----------
const captions: { x: number; y: number; tag: string; math?: string; hat?: boolean; text: string }[] = [
  { x: 160, y: 323, tag: '(a)', text: ' Offline: Synthetic' },
  { x: 489.5, y: 323, tag: '(b)', text: ' Offline: Reddit' },
  { x: 823, y: 323, tag: '(c)', text: ' Hybrid: Synthetic' },
  { x: 1147, y: 323, tag: '(d)', text: ' Hybrid: Reddit' },
  { x: 161, y: 580, tag: '(e)', math: 'd', text: ': Synthetic' },
  { x: 490, y: 580, tag: '(f)', math: 'd', text: ': Reddit' },
  { x: 808, y: 580, tag: '(g)', math: 'γ', hat: true, text: ': Synthetic' },
  { x: 1149, y: 580, tag: '(h)', math: 'γ', hat: true, text: ': Reddit' },
];

function MathSym({ s, hat }: { s: string; hat?: boolean }) {
  if (!hat) return <i>{s}</i>;
  return (
    <span style={{ position: 'relative', display: 'inline-block' }}>
      <i>{s}</i>
      <span style={{ position: 'absolute', left: '58%', top: '-0.12em', transform: 'translateX(-50%)', fontSize: '0.9em' }}>
        ˆ
      </span>
    </span>
  );
}

export default function App() {
  return (
    <div
      style={{
        position: 'absolute', left: 0, top: 0, width: 1300, height: 598, overflow: 'hidden',
        background: '#fff', fontFamily: "'DejaVu Sans', sans-serif",
      }}
    >
      {legendItems.map((it, i) => (
        <React.Fragment key={i}>
          <LegendIcon item={it} />
          <div
            style={{
              position: 'absolute', left: it.tx, top: legendRowY[it.row], transform: 'translateY(-50%)',
              fontSize: 17, lineHeight: '20px', whiteSpace: 'nowrap', color: '#000',
            }}
          >
            {it.label}
          </div>
        </React.Fragment>
      ))}
      {panels.map((p, i) => (
        <Panel key={i} def={p} />
      ))}
      {captions.map((c, i) => (
        <div
          key={i}
          style={{
            position: 'absolute', left: c.x, top: c.y, transform: 'translate(-50%, -50%)',
            fontFamily: "'Liberation Serif', serif", fontSize: 23.5, lineHeight: '26px', whiteSpace: 'nowrap', color: '#000',
          }}
        >
          <i>{c.tag}</i>
          {c.math ? <>{' '}<MathSym s={c.math} hat={c.hat} /></> : null}
          {c.text}
        </div>
      ))}
    </div>
  );
}
